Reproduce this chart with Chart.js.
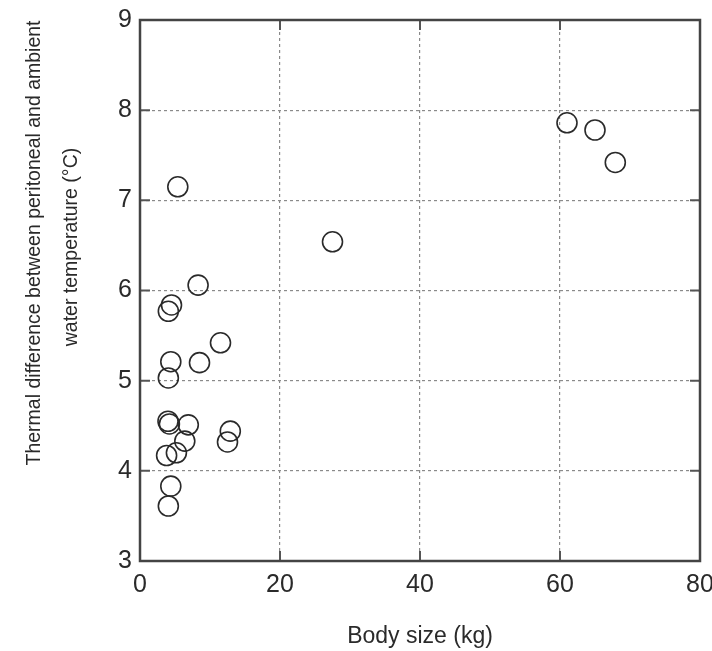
<!DOCTYPE html>
<html>
<head>
<meta charset="utf-8">
<script src="https://cdn.jsdelivr.net/npm/chart.js@4.4.1/dist/chart.umd.min.js"></script>
<style>
  html, body { margin: 0; padding: 0; background: #fff; }
  #wrap { width: 712px; height: 651px; }
</style>
</head>
<body>
<div id="wrap"><canvas id="grafico" width="712" height="651"></canvas></div>
<script>
// dados
const bodySize = [61.0, 65.0, 67.9, 5.4, 27.5, 8.3, 4.5, 4.05, 11.5, 8.5, 4.4, 4.05,
                  4.0, 4.2, 6.9, 12.9, 12.5, 6.4, 5.2, 3.8, 4.4, 4.05];
const thermalDiff = [7.86, 7.78, 7.42, 7.15, 6.54, 6.06, 5.84, 5.77, 5.42, 5.20, 5.21, 5.03,
                     4.55, 4.52, 4.51, 4.44, 4.32, 4.33, 4.20, 4.17, 3.83, 3.61];
const xTicks = [0, 20, 40, 60, 80];
const yTicks = [3, 4, 5, 6, 7, 8, 9];
const xTitle = 'Body size (kg)';
const yTitle = ['Thermal difference between peritoneal and ambient', 'water temperature (\u00b0C)'];

const fonte = '"Liberation Sans", Arial, sans-serif';

const pontos = bodySize.map((x, i) => ({ x: x, y: thermalDiff[i] }));

// moldura, marcas de tick para dentro e titulo do eixo y
const moldura = {
  id: 'moldura',
  afterDraw(chart) {
    const { ctx, chartArea: a, scales } = chart;
    ctx.save();
    ctx.strokeStyle = '#555';
    ctx.lineWidth = 2;
    xTicks.forEach(v => {
      const px = scales.x.getPixelForValue(v);
      ctx.beginPath();
      ctx.moveTo(px, a.bottom); ctx.lineTo(px, a.bottom - 10);
      ctx.moveTo(px, a.top); ctx.lineTo(px, a.top + 10);
      ctx.stroke();
    });
    yTicks.forEach(v => {
      const py = scales.y.getPixelForValue(v);
      ctx.beginPath();
      ctx.moveTo(a.left, py); ctx.lineTo(a.left + 10, py);
      ctx.moveTo(a.right, py); ctx.lineTo(a.right - 10, py);
      ctx.stroke();
    });
    ctx.lineWidth = 2.5;
    ctx.strokeStyle = '#444';
    ctx.strokeRect(a.left, a.top, a.right - a.left, a.bottom - a.top);

    // titulo y em duas linhas, letra estreita como no original
    ctx.fillStyle = '#2a2a2a';
    ctx.font = '21px ' + fonte;
    ctx.textAlign = 'center';
    ctx.textBaseline = 'middle';
    ctx.translate(34, 243);
    ctx.rotate(-Math.PI / 2);
    const esc = 445 / ctx.measureText(yTitle[0]).width;
    ctx.scale(esc, 1);
    ctx.fillText(yTitle[0], 0, 0);
    ctx.fillText(yTitle[1], -4 / esc, 37);
    ctx.restore();
  }
};

const gradeCor = (ctx) => {
  const v = ctx.tick ? ctx.tick.value : null;
  return (v === null) ? 'transparent' : '#8a8a8a';
};

new Chart(document.getElementById('grafico'), {
  type: 'scatter',
  data: {
    datasets: [{
      data: pontos,
      pointRadius: 10,
      pointHoverRadius: 10,
      pointBorderWidth: 1.6,
      pointBorderColor: '#2a2a2a',
      pointBackgroundColor: 'transparent'
    }]
  },
  options: {
    responsive: false,
    animation: false,
    layout: { padding: { top: 20, right: 0, left: 0, bottom: 0 } },
    plugins: {
      legend: { display: false },
      tooltip: { enabled: false }
    },
    scales: {
      x: {
        type: 'linear',
        min: 0, max: 80,
        afterFit: (s) => { s.height = 90; s.paddingRight = 12; s.paddingLeft = 0; },
        afterBuildTicks: (s) => { s.ticks = xTicks.map(v => ({ value: v })); },
        border: { display: false, dash: [3, 3] },
        grid: { color: gradeCor, lineWidth: 1.2, drawTicks: false },
        ticks: { padding: 9, color: '#2a2a2a', font: { family: fonte, size: 25 } },
        title: {
          display: true, text: xTitle, color: '#2a2a2a',
          font: { family: fonte, size: 23 }, padding: { top: 4, bottom: 1 }
        }
      },
      y: {
        type: 'linear',
        min: 3, max: 9,
        afterFit: (s) => { s.width = 140; s.paddingTop = 0; },
        afterBuildTicks: (s) => { s.ticks = yTicks.map(v => ({ value: v })); },
        border: { display: false, dash: [3, 3] },
        grid: { color: gradeCor, lineWidth: 1.2, drawTicks: false },
        ticks: { padding: 8, color: '#2a2a2a', font: { family: fonte, size: 25 } }
      }
    }
  },
  plugins: [moldura]
});
</script>
</body>
</html>
